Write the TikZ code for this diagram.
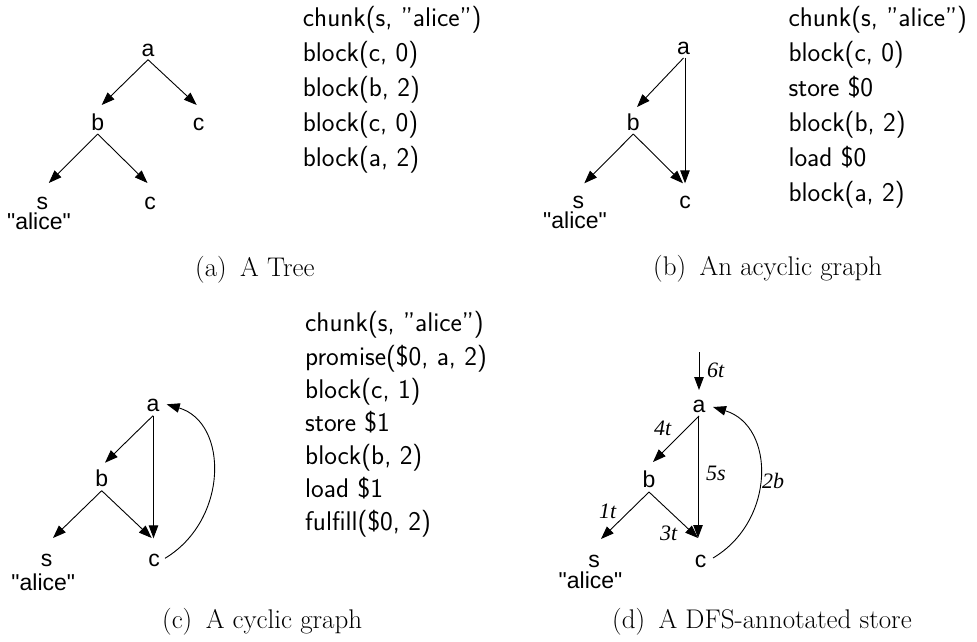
\documentclass[tikz,border=0pt]{standalone}
\usepackage{fontspec}
\newfontfamily\treefont{Liberation Sans}
\newfontfamily\labfont{Liberation Serif}
\usetikzlibrary{arrows.meta}
\begin{document}
\begin{tikzpicture}[x=1pt,y=-1pt,
  tl/.style={font=\treefont\fontsize{23}{27}\selectfont, inner sep=0pt, anchor=base},
  code/.style={font=\sffamily\fontsize{27}{32}\selectfont, inner sep=0pt, anchor=base west},
  captxt/.style={font=\rmfamily\fontsize{27}{32}\selectfont, inner sep=0pt, anchor=base west},
  el/.style={font=\labfont\itshape\fontsize{22}{26}\selectfont, inner sep=0pt, anchor=base west},
  arr/.style={-{Triangle[length=13pt,width=9.5pt]}, line width=0.9pt},
]
\useasboundingbox (0,0) rectangle (977,642);

% ---------- (a) ----------
\node[tl] (a1) at (148,56.7) {a};
\node[tl] (b1) at (97.7,130) {b};
\node[tl] (c1) at (198.7,130) {c};
\node[tl] (s1) at (42.3,209) {s};
\node[tl] (d1) at (150,209) {c};
\node[tl] (q1) at (39,229.5) {"alice"};
\draw[arr] ([shift={(0,3)}]a1.base) -- ([shift={(4,-25)}]b1.base);
\draw[arr] ([shift={(0,3)}]a1.base) -- ([shift={(-2,-25)}]c1.base);
\draw[arr] ([shift={(0,4)}]b1.base) -- ([shift={(6.5,-26)}]s1.base);
\draw[arr] ([shift={(0,4)}]b1.base) -- ([shift={(-2.5,-26)}]d1.base);

\node[code] (ka1) at (302.7,26.7) {chunk(s, ”alice”)};
\node[code] (ka2) at (302.7,61.7) {block(c, 0)};
\node[code] (ka3) at (302.7,96.7) {block(b, 2)};
\node[code] (ka4) at (302.7,131.7) {block(c, 0)};
\node[code] (ka5) at (302.7,166.7) {block(a, 2)};
\node[captxt] (capa) at (195,276.7) {(a)\enspace A Tree};

% ---------- (b) ----------
\node[tl] (a2) at (683.5,55) {a};
\node[tl] (b2) at (633.3,130) {b};
\node[tl] (s2) at (578.3,208.3) {s};
\node[tl] (c2) at (685,208.3) {c};
\node[tl] (q2) at (575,228) {"alice"};
\draw[arr] ([shift={(0,3)}]a2.base) -- ([shift={(3.7,-23)}]b2.base);
\draw[arr] ([shift={(1.5,3)}]a2.base) -- ([shift={(0,-25)}]c2.base);
\draw[arr] ([shift={(0,4)}]b2.base) -- ([shift={(6,-25)}]s2.base);
\draw[arr] ([shift={(0,4)}]b2.base) -- ([shift={(-2,-25)}]c2.base);

\node[code] (kb1) at (788.3,26.7) {chunk(s, ”alice”)};
\node[code] (kb2) at (788.3,61.7) {block(c, 0)};
\node[code] (kb3) at (788.3,96.7) {store \$0};
\node[code] (kb4) at (788.3,131.7) {block(b, 2)};
\node[code] (kb5) at (788.3,166.7) {load \$0};
\node[code] (kb6) at (788.3,201.7) {block(a, 2)};
\node[captxt] (capb) at (653,275.5) {(b)\enspace An acyclic graph};

% ---------- (c) ----------
\node[tl] (a3) at (153,411.7) {a};
\node[tl] (b3) at (101.7,486.7) {b};
\node[tl] (s3) at (46.7,566.7) {s};
\node[tl] (c3) at (154,566.7) {c};
\node[tl] (q3) at (43.3,590) {"alice"};
\draw[arr] ([shift={(0,4)}]a3.base) -- ([shift={(3.3,-24)}]b3.base);
\draw[arr] ([shift={(0.5,4)}]a3.base) -- ([shift={(-0.5,-28.4)}]c3.base);
\draw[arr] ([shift={(0,4)}]b3.base) -- ([shift={(6.3,-28.7)}]s3.base);
\draw[arr] ([shift={(0,4)}]b3.base) -- ([shift={(-2.3,-28.7)}]c3.base);
\draw[arr] ([shift={(11,-8.4)}]c3.base) .. controls (228.7,520) and (228.7,422.5) .. ([shift={(13.7,-7.4)}]a3.base);

\node[code] (kc1) at (305,331.7) {chunk(s, ”alice”)};
\node[code] (kc2) at (305,365) {promise(\$0, a, 2)};
\node[code] (kc3) at (305,398.2) {block(c, 1)};
\node[code] (kc4) at (305,431.3) {store \$1};
\node[code] (kc5) at (305,464.5) {block(b, 2)};
\node[code] (kc6) at (305,497.6) {load \$1};
\node[code] (kc7) at (305,530.8) {fulfill(\$0, 2)};
\node[captxt] (capc) at (162,628.3) {(c)\enspace A cyclic graph};

% ---------- (d) ----------
\coordinate (top4) at (699,352);
\node[tl] (a4) at (699,412) {a};
\node[tl] (b4) at (649,487) {b};
\node[tl] (s4) at (594,567) {s};
\node[tl] (c4) at (700.5,567) {c};
\node[tl] (q4) at (590.5,588.5) {"alice"};
\draw[arr] (top4) -- ([shift={(0,-22)}]a4.base);
\draw[arr] ([shift={(0,4)}]a4.base) -- ([shift={(4,-25)}]b4.base);
\draw[arr] ([shift={(-1,4)}]a4.base) -- ([shift={(-2.5,-29)}]c4.base);
\draw[arr] ([shift={(0,5)}]b4.base) -- ([shift={(7,-28)}]s4.base);
\draw[arr] ([shift={(0,5)}]b4.base) -- ([shift={(-2.5,-29)}]c4.base);
\draw[arr] ([shift={(12.5,-9)}]c4.base) .. controls (775.7,521) and (775.7,426) .. ([shift={(14,-5)}]a4.base);

\node[el] (l6) at (707,377) {6t};
\node[el] (l4) at (654,435) {4t};
\node[el] (l5) at (706,480) {5s};
\node[el] (l1) at (599,518) {1t};
\node[el] (l3) at (660,540) {3t};
\node[el] (l2) at (762,488) {2b};
\node[captxt] (capd) at (612,628.3) {(d)\enspace A DFS-annotated store};
\end{tikzpicture}
\end{document}
